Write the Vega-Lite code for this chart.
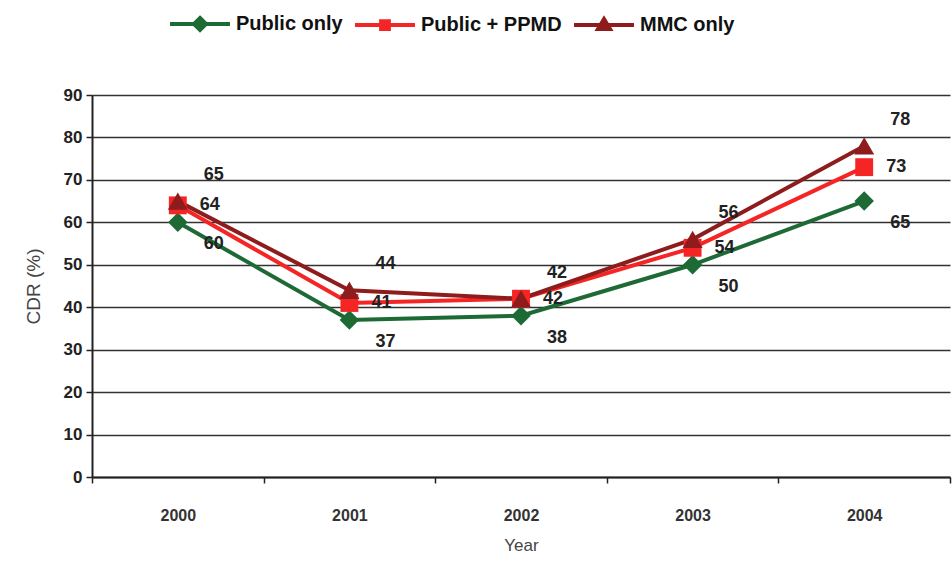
{
  "$schema": "https://vega.github.io/schema/vega-lite/v6.json",
  "width": 858,
  "height": 382,
  "autosize": "none",
  "padding": {"left": 92, "top": 95, "right": 2, "bottom": 90},
  "background": "white",
  "config": {
    "font": "Liberation Sans",
    "view": {"stroke": null}
  },
  "data": {
    "values": [
      {"Year": "2000", "Series": "Public only", "CDR": 60},
      {"Year": "2001", "Series": "Public only", "CDR": 37},
      {"Year": "2002", "Series": "Public only", "CDR": 38},
      {"Year": "2003", "Series": "Public only", "CDR": 50},
      {"Year": "2004", "Series": "Public only", "CDR": 65},
      {"Year": "2000", "Series": "Public + PPMD", "CDR": 64},
      {"Year": "2001", "Series": "Public + PPMD", "CDR": 41},
      {"Year": "2002", "Series": "Public + PPMD", "CDR": 42},
      {"Year": "2003", "Series": "Public + PPMD", "CDR": 54},
      {"Year": "2004", "Series": "Public + PPMD", "CDR": 73},
      {"Year": "2000", "Series": "MMC only", "CDR": 65},
      {"Year": "2001", "Series": "MMC only", "CDR": 44},
      {"Year": "2002", "Series": "MMC only", "CDR": 42},
      {"Year": "2003", "Series": "MMC only", "CDR": 56},
      {"Year": "2004", "Series": "MMC only", "CDR": 78}
    ]
  },
  "encoding": {
    "x": {
      "field": "Year", "type": "ordinal",
      "scale": {"type": "band", "paddingInner": 0, "paddingOuter": 0},
      "axis": {
        "title": "Year", "labelAngle": 0, "tickBand": "extent",
        "domainColor": "#222", "domainWidth": 2, "tickColor": "#222", "tickWidth": 1.5, "tickSize": 6,
        "labelFont": "Liberation Sans", "labelFontSize": 16, "labelFontWeight": "bold", "labelColor": "#333",
        "labelPadding": 24, "titleFontSize": 17, "titleFontWeight": "normal", "titleColor": "#444", "titlePadding": 14,
        "grid": false
      }
    },
    "y": {
      "field": "CDR", "type": "quantitative",
      "scale": {"domain": [0, 90], "nice": false},
      "axis": {
        "title": "CDR (%)", "values": [0, 10, 20, 30, 40, 50, 60, 70, 80, 90],
        "grid": true, "gridColor": "#333", "gridWidth": 1.5,
        "domainColor": "#222", "domainWidth": 2, "tickColor": "#222", "tickWidth": 1.5, "tickSize": 6,
        "labelFontSize": 17, "labelFontWeight": "bold", "labelColor": "#222", "labelPadding": 4,
        "titleFontSize": 19, "titleFontWeight": "normal", "titleColor": "#444", "titlePadding": 20
      }
    },
    "color": {
      "field": "Series", "type": "nominal",
      "scale": {"domain": ["Public only", "Public + PPMD", "MMC only"], "range": ["#1e6a35", "#f52525", "#8e1c1c"]},
      "legend": null
    }
  },
  "layer": [
    {
      "mark": {"type": "line", "strokeWidth": 4},
      "encoding": {
        "color": {
          "field": "Series", "type": "nominal",
          "legend": {
            "title": null, "orient": "none", "direction": "horizontal",
            "legendX": 76, "legendY": -103,
            "symbolType": "stroke", "symbolSize": 3600, "symbolStrokeWidth": 4,
            "labelFontSize": 20, "labelFontWeight": "bold", "labelColor": "#111", "labelOffset": 4,
            "columnPadding": 4,
            "encode": {
              "symbols": {
                "update": {
                  "shape": {"signal": "datum.value === 'Public only' ? 'M-1,0H1M0,-0.2L0.2,0L0,0.2L-0.2,0Z' : datum.value === 'Public + PPMD' ? 'M-1,0H1M-0.13,-0.13H0.13V0.13H-0.13Z' : 'M-1,0H1M0,-0.2L0.2,0.13H-0.2Z'"},
                  "fill": {"signal": "scale('color', datum.value)"}
                }
              }
            }
          }
        },
        "detail": {"field": "Series"}
      }
    },
    {
      "transform": [{"filter": "datum.Series === 'Public only'"}],
      "mark": {"type": "point", "filled": true, "size": 380, "opacity": 1, "shape": "diamond"}
    },
    {
      "transform": [{"filter": "datum.Series === 'Public + PPMD'"}],
      "mark": {"type": "point", "filled": true, "size": 320, "opacity": 1, "shape": "square"}
    },
    {
      "transform": [{"filter": "datum.Series === 'MMC only'"}],
      "mark": {"type": "point", "filled": true, "size": 400, "opacity": 1, "shape": "triangle-up"}
    },
    {
      "transform": [{"filter": "datum.Series === 'Public only'"}],
      "mark": {"type": "text", "dx": 26, "dy": 22, "align": "left", "fontSize": 18, "fontWeight": "bold", "color": "#222"},
      "encoding": {"text": {"field": "CDR", "type": "quantitative"}, "color": {"value": "#222"}}
    },
    {
      "transform": [{"filter": "datum.Series === 'Public + PPMD'"}],
      "mark": {"type": "text", "dx": 22, "dy": 0, "align": "left", "fontSize": 18, "fontWeight": "bold", "color": "#222"},
      "encoding": {"text": {"field": "CDR", "type": "quantitative"}, "color": {"value": "#222"}}
    },
    {
      "transform": [{"filter": "datum.Series === 'MMC only'"}],
      "mark": {"type": "text", "dx": 26, "dy": -26, "align": "left", "fontSize": 18, "fontWeight": "bold", "color": "#222"},
      "encoding": {"text": {"field": "CDR", "type": "quantitative"}, "color": {"value": "#222"}}
    }
  ]
}
